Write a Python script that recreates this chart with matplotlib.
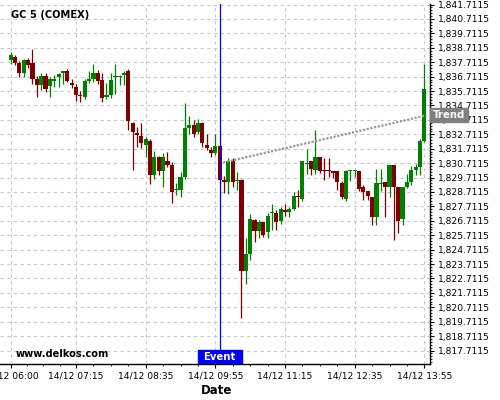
import numpy as np
import pandas as pd
import matplotlib
matplotlib.use('Agg')
import matplotlib.pyplot as plt
from matplotlib.patches import Rectangle
from matplotlib.ticker import FixedLocator, FuncFormatter

# 5-minute bars, 14/12 06:00 -> 13:55
times = pd.date_range('2020-12-14 06:00', periods=96, freq='5min')

opens = [1837.90, 1838.09, 1837.67, 1836.93, 1837.86, 1837.63, 1836.52, 1836.10, 1836.77, 1836.06,
         1836.40, 1836.70, 1836.93, 1837.12, 1836.29, 1836.01, 1835.46, 1835.32, 1836.43, 1836.52,
         1836.98, 1836.47, 1835.32, 1835.41, 1836.66, 1836.66, 1836.80, 1837.12, 1833.52, 1832.83,
         1832.62, 1832.00, 1832.28, 1829.92, 1831.17, 1830.20, 1830.89, 1830.61, 1828.82, 1828.82,
         1829.74, 1833.13, 1833.38, 1832.85, 1833.50, 1832.00, 1831.63, 1831.40, 1831.93, 1829.51,
         1829.39, 1830.89, 1829.46, 1829.51, 1823.23, 1824.39, 1826.78, 1826.00, 1826.60, 1825.93,
         1827.26, 1827.25, 1826.69, 1827.48, 1827.32, 1827.50, 1828.40, 1828.19, 1830.66, 1830.84,
         1830.24, 1831.12, 1830.24, 1830.27, 1830.20, 1830.15, 1829.32, 1828.21, 1830.17, 1830.17,
         1830.20, 1829.04, 1828.81, 1828.35, 1827.01, 1829.27, 1829.37, 1829.09, 1830.61, 1829.04,
         1826.83, 1829.09, 1829.37, 1830.27, 1830.43, 1832.27]
highs = [1838.39, 1838.18, 1837.81, 1837.93, 1838.00, 1838.62, 1836.77, 1836.93, 1836.93, 1836.66,
         1836.86, 1836.93, 1837.12, 1837.24, 1836.56, 1836.20, 1835.70, 1836.52, 1837.12, 1837.58,
         1837.17, 1836.93, 1836.24, 1836.93, 1837.58, 1836.80, 1837.12, 1837.24, 1833.55, 1833.20,
         1833.50, 1832.50, 1832.40, 1831.54, 1831.20, 1831.40, 1831.47, 1830.80, 1829.32, 1830.08,
         1834.86, 1834.00, 1833.70, 1833.77, 1833.55, 1832.74, 1831.81, 1832.74, 1832.00, 1829.85,
         1831.07, 1831.07, 1830.08, 1829.60, 1825.54, 1827.20, 1826.85, 1826.78, 1826.62, 1827.25,
         1827.89, 1827.43, 1827.66, 1827.89, 1827.70, 1828.70, 1828.82, 1830.84, 1831.70, 1830.84,
         1833.01, 1831.12, 1831.07, 1831.07, 1830.20, 1830.15, 1829.50, 1830.22, 1830.22, 1830.22,
         1830.20, 1829.20, 1828.81, 1828.35, 1830.31, 1830.31, 1829.37, 1830.61, 1830.61, 1829.04,
         1829.09, 1829.97, 1830.54, 1830.66, 1832.39, 1837.62]
lows = [1837.58, 1837.55, 1836.66, 1836.66, 1837.30, 1836.20, 1835.27, 1835.78, 1835.62, 1835.27,
        1836.01, 1836.01, 1836.17, 1836.33, 1835.90, 1835.04, 1834.97, 1835.16, 1836.29, 1836.33,
        1836.20, 1834.93, 1835.13, 1835.23, 1835.50, 1836.10, 1836.10, 1833.01, 1830.24, 1831.81,
        1831.77, 1831.12, 1829.28, 1829.62, 1829.90, 1829.05, 1830.45, 1827.94, 1828.47, 1828.35,
        1829.62, 1832.74, 1832.50, 1832.70, 1831.81, 1831.60, 1831.12, 1831.30, 1829.30, 1828.63,
        1828.58, 1829.04, 1828.86, 1820.00, 1822.35, 1823.97, 1825.24, 1825.54, 1825.58, 1825.54,
        1826.09, 1826.09, 1826.50, 1827.02, 1826.97, 1827.43, 1827.66, 1828.12, 1829.97, 1829.92,
        1829.97, 1830.00, 1829.55, 1829.73, 1829.69, 1828.86, 1828.20, 1828.12, 1829.46, 1829.73,
        1828.80, 1828.16, 1828.16, 1826.39, 1826.39, 1828.80, 1826.97, 1828.35, 1825.35, 1825.86,
        1826.39, 1829.00, 1829.23, 1829.92, 1829.92, 1832.20]
closes = [1838.23, 1837.63, 1836.93, 1837.86, 1837.53, 1836.52, 1836.10, 1836.77, 1835.87, 1836.52,
          1836.52, 1836.89, 1837.12, 1836.43, 1836.10, 1835.41, 1835.37, 1836.43, 1836.52, 1836.98,
          1836.43, 1835.23, 1835.41, 1836.47, 1836.70, 1836.75, 1836.98, 1833.61, 1832.87, 1832.69,
          1832.09, 1832.39, 1829.92, 1831.17, 1830.20, 1831.12, 1830.61, 1828.70, 1828.89, 1829.78,
          1833.13, 1833.38, 1832.71, 1833.50, 1832.09, 1831.77, 1831.42, 1831.93, 1829.51, 1829.39,
          1830.89, 1829.39, 1829.51, 1823.23, 1824.39, 1826.85, 1826.00, 1826.62, 1825.70, 1827.08,
          1827.32, 1826.62, 1827.55, 1827.32, 1827.55, 1828.40, 1828.35, 1830.84, 1830.70, 1830.31,
          1831.12, 1830.20, 1830.20, 1830.15, 1830.06, 1829.39, 1828.35, 1830.20, 1830.20, 1830.20,
          1828.90, 1828.70, 1828.40, 1827.01, 1829.32, 1829.32, 1829.09, 1830.61, 1829.04, 1826.69,
          1829.09, 1829.37, 1830.27, 1830.47, 1832.27, 1835.85]

tick_times = ['06:00', '07:15', '08:35', '09:55', '11:15', '12:35', '13:55']
event_time = '10:00'
trend_idx = [48.8, 95.5]
trend_val = [1830.75, 1834.03]
y_ticks = 1817.7115 + np.arange(25)

hhmm = list(times.strftime('%H:%M'))
idx = np.arange(len(times))
o = np.array(opens); h = np.array(highs); l = np.array(lows); c = np.array(closes)
up = c >= o
colors = np.where(up, '#008000', '#800000')

fig = plt.figure(figsize=(5, 4), dpi=100)
ax = fig.add_axes([0.0, 0.09, 0.8606, 0.90])

ax.grid(True, which='major', color='#c8c8c8', ls=(0, (3, 3)), lw=0.8)
ax.set_axisbelow(True)

ax.vlines(idx, l, h, colors=colors, lw=0.9, zorder=3)
body_lo = np.minimum(o, c)
body_h = np.maximum(np.abs(c - o), 0.07)
ax.bar(idx, body_h, bottom=body_lo, width=0.95, color=colors, lw=0, zorder=3)

# trend line and its label
ax.plot(trend_idx, trend_val, color='#999999', lw=1.6, ls=(0, (1, 0.7)), zorder=4)
ax.add_patch(Rectangle((1.0, trend_val[-1] - 0.485), 0.0876, 0.97,
                       transform=ax.get_yaxis_transform(), color='#808080',
                       clip_on=False, zorder=6))
ax.text(1.0 + 0.0876 / 2, trend_val[-1], 'Trend', transform=ax.get_yaxis_transform(),
        ha='center', va='center', color='white', fontsize=7.3, weight='bold', zorder=7)

# event marker
ev = hhmm.index(event_time)
ax.axvline(ev, color='#0000ff', lw=0.9, zorder=5)
ax.add_patch(Rectangle((ev - 5.05, 0), 10.1, 14 / 360, transform=ax.get_xaxis_transform(),
                       color='#0000ff', zorder=6))
ax.text(ev, 7 / 360, 'Event', transform=ax.get_xaxis_transform(), ha='center', va='center',
        color='white', fontsize=7.3, weight='bold', zorder=7)

ax.set_xlim(-2.46, 96.37)
ax.set_ylim(1816.78, 1841.75)

# x ticks
major_x = [hhmm.index(t) for t in tick_times]
minor_x = []
for a, b in zip(major_x[:-1], major_x[1:]):
    minor_x += list(np.linspace(a, b, 5)[1:-1])
ax.xaxis.set_major_locator(FixedLocator(major_x))
ax.xaxis.set_minor_locator(FixedLocator(minor_x))
ax.xaxis.set_major_formatter(FuncFormatter(lambda v, p: times[int(round(v))].strftime('%d/%m %H:%M')))

# y ticks on the right
ax.yaxis.tick_right()
ax.yaxis.set_major_locator(FixedLocator(y_ticks))
ax.yaxis.set_minor_locator(FixedLocator(np.arange(y_ticks[0] - 1, y_ticks[-1] + 0.01, 0.2)))
ax.yaxis.set_major_formatter(FuncFormatter(lambda v, p: f'{v:,.4f}'))

ax.tick_params(which='major', length=3, width=0.8, labelsize=6.6, pad=2.5, colors='black')
ax.tick_params(which='minor', length=1.6, width=0.6)

for s in ['left', 'top']:
    ax.spines[s].set_visible(False)
for s in ['right', 'bottom']:
    ax.spines[s].set_linewidth(1.0)

fig.text(10.7 / 500, 1 - 15 / 400, 'GC 5 (COMEX)', fontsize=7.1, weight='bold', va='center')
fig.text(15.7 / 500, 1 - 354 / 400, 'www.delkos.com', fontsize=7.1, weight='bold', va='center')
fig.text(217 / 500, 1 - 390 / 400, 'Date', fontsize=8.5, weight='bold', ha='center', va='center')

fig.savefig('out.png', dpi=100)
